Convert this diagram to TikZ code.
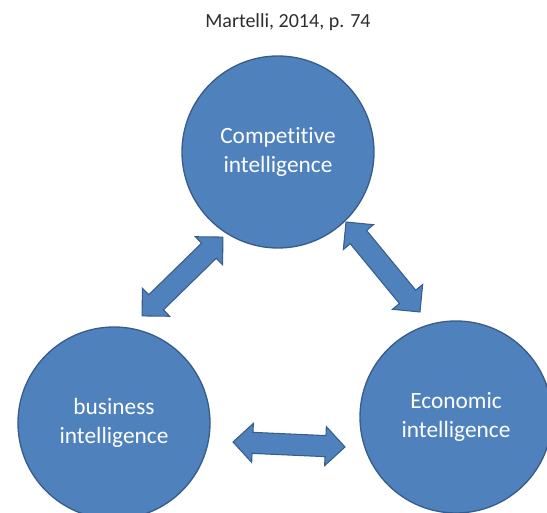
\documentclass[tikz,border=0pt]{standalone}
\usepackage{fontspec}
\setmainfont{Carlito}[Ligatures=NoCommon]
\usetikzlibrary{shapes.arrows,calc}
\definecolor{blobfill}{RGB}{79,129,189}
\definecolor{blobline}{RGB}{56,93,138}
\definecolor{srcgray}{RGB}{45,45,45}
\begin{document}
\begin{tikzpicture}[x=0.75pt,y=0.75pt,yscale=-1,xscale=1,
	blob/.style={circle,draw=blobline,fill=blobfill,line width=1pt,inner sep=0pt,minimum size=144pt,align=center,text=white,font=\fontsize{17.5}{21.5}\selectfont},
	dblarrow/.style={double arrow,draw=blobline,fill=blobfill,line width=0.8pt,inner xsep=0pt,inner ysep=7.5pt,double arrow head extend=6.75pt}]
	\useasboundingbox (0,0) rectangle (547,513);
	
	% Text Node
	\node[font=\fontsize{15}{18}\selectfont,text=srcgray] (src) at (288,22) {Martelli, 2014, p. 74};
	
	%Shape: Circle
	\node[blob] (comp) at (278,152) {Competitive\\intelligence};
	%Shape: Circle
	\node[blob] (bus) at (114,423) {business\\intelligence};
	%Shape: Circle
	\node[blob] (econ) at (456,417) {Economic\\intelligence};
	
	% arrow ends
	\coordinate (cb1) at (223,237);
	\coordinate (cb2) at (142,316);
	\coordinate (ce1) at (346,222);
	\coordinate (ce2) at (420,312);
	\coordinate (be1) at (233,442);
	\coordinate (be2) at (345,447);
	
	%Double Arrows
	\path let \p1=($(cb2)-(cb1)$), \n1={veclen(\x1,\y1)}, \n2={atan2(\y1,\x1)} in
		node[dblarrow,minimum height=\n1,rotate=-\n2] (cbarrow) at ($(cb1)!0.5!(cb2)$) {};
	\path let \p1=($(ce2)-(ce1)$), \n1={veclen(\x1,\y1)}, \n2={atan2(\y1,\x1)} in
		node[dblarrow,minimum height=\n1,rotate=-\n2] (cearrow) at ($(ce1)!0.5!(ce2)$) {};
	\path let \p1=($(be2)-(be1)$), \n1={veclen(\x1,\y1)}, \n2={atan2(\y1,\x1)} in
		node[dblarrow,minimum height=\n1,rotate=-\n2] (bearrow) at ($(be1)!0.5!(be2)$) {};
	
\end{tikzpicture}
\end{document}
